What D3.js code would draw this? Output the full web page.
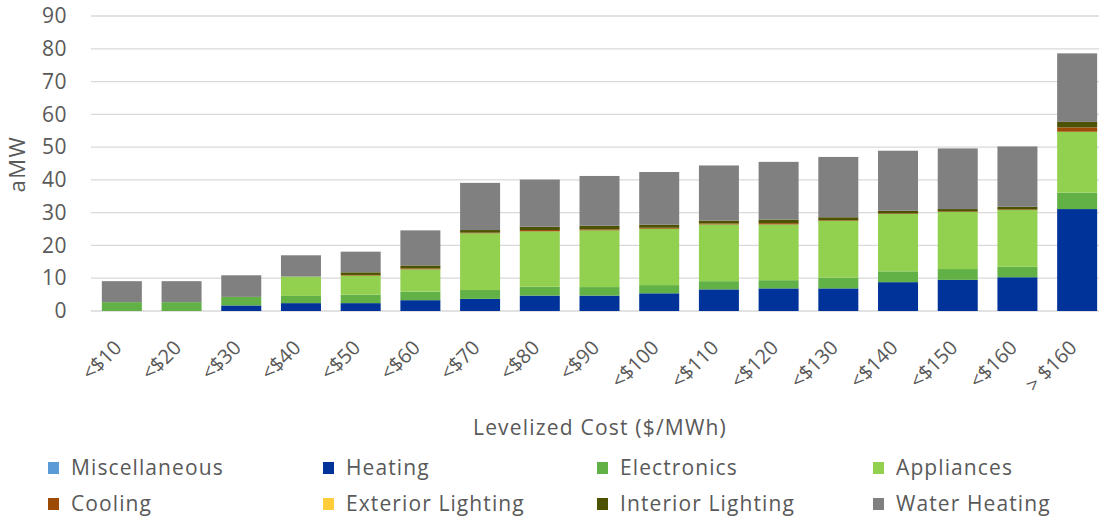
<!DOCTYPE html>
<html><head><meta charset="utf-8">
<script src="https://cdn.jsdelivr.net/npm/d3@7"></script>
<style>
html,body{margin:0;padding:0;background:#fff;}
svg{display:block;}
text{font-family:"Open Sans",sans-serif;fill:#595959;}
</style></head>
<body><svg id="chart" width="1099" height="521"></svg>
<script>
const categories = ["<$10","<$20","<$30","<$40","<$50","<$60","<$70","<$80","<$90","<$100","<$110","<$120","<$130","<$140","<$150","<$160","> $160"];
const seriesNames = ["Miscellaneous","Heating","Electronics","Appliances","Cooling","Exterior Lighting","Interior Lighting","Water Heating"];
const seriesColors = ["#5B9BD5","#003399","#62B146","#92D050","#9C4A06","#FFCD3A","#4D5200","#808080"];
const miscellaneous = [0,0,0,0,0,0,0,0,0,0,0,0,0,0,0,0,0];
const heating =      [0,0,1.7,2.4,2.4,3.3,3.7,4.7,4.7,5.4,6.6,6.9,6.9,8.8,9.5,10.3,31.1];
const electronics =  [2.7,2.7,2.6,2.2,2.6,2.6,2.7,2.7,2.6,2.5,2.5,2.5,3.3,3.3,3.3,3.2,5.0];
const appliances =   [0,0,0,5.9,5.8,6.8,17.3,16.9,17.3,17.2,17.3,17.0,17.3,17.5,17.4,17.3,18.6];
const cooling =      [0,0,0,0,0.2,0.3,0.2,0.4,0.3,0.3,0.3,0.4,0.2,0.2,0.2,0.2,1.3];
const exteriorLighting = [0,0,0,0,0,0,0,0,0,0,0,0,0,0,0,0,0];
const interiorLighting = [0,0,0,0,0.8,0.9,0.8,1.0,1.1,0.9,0.9,1.1,0.9,0.8,0.7,0.8,1.7];
const waterHeating = [6.4,6.4,6.6,6.5,6.3,10.7,14.4,14.4,15.2,16.1,16.8,17.6,18.4,18.3,18.5,18.4,20.9];
const yTicks = [0,10,20,30,40,50,60,70,80,90];

const seriesValues = [miscellaneous,heating,electronics,appliances,cooling,exteriorLighting,interiorLighting,waterHeating];
const rows = categories.map((c,i)=>{const r={cat:c}; seriesNames.forEach((s,j)=>r[s]=seriesValues[j][i]); return r;});
const stacked = d3.stack().keys(seriesNames)(rows);

const svg = d3.select("#chart");
const x = d3.scaleBand().domain(categories).range([92,1107]).paddingInner(0.33).paddingOuter(0.165);
const y = d3.scaleLinear().domain([0,90]).range([311,16]);
const color = d3.scaleOrdinal().domain(seriesNames).range(seriesColors);

// gridlines
svg.append("g").selectAll("line").data(yTicks).join("line")
  .attr("x1",91).attr("x2",1099)
  .attr("y1",d=>y(d)).attr("y2",d=>y(d))
  .attr("stroke","#d9d9d9").attr("stroke-width",1.3);

// y axis
const yAxis = svg.append("g").attr("transform","translate(67,0)")
  .call(d3.axisLeft(y).tickValues(yTicks).tickSize(0).tickPadding(0));
yAxis.select(".domain").remove();
yAxis.selectAll("text").attr("font-size","21px").attr("font-family","Open Sans")
  .attr("fill","#595959").attr("letter-spacing","0.5px");

// bars
svg.append("g").selectAll("g").data(stacked).join("g")
  .attr("fill",d=>color(d.key))
  .selectAll("rect").data(d=>d).join("rect")
  .attr("x",d=>x(d.data.cat))
  .attr("width",x.bandwidth())
  .attr("y",d=>y(d[1]))
  .attr("height",d=>Math.max(0,y(d[0])-y(d[1])));

// x axis labels
svg.append("g").selectAll("text").data(categories).join("text")
  .attr("transform",d=>`translate(${x(d)+x.bandwidth()/2+1},349) rotate(-45)`)
  .attr("text-anchor","end")
  .attr("font-size","20px")
  .text(d=>d);

// axis titles
svg.append("text").attr("x",600).attr("y",435).attr("text-anchor","middle")
  .attr("font-size","21px").attr("letter-spacing","1.2px").text("Levelized Cost ($/MWh)");
svg.append("text").attr("transform","translate(25,164) rotate(-90)").attr("text-anchor","middle")
  .attr("font-size","22px").attr("letter-spacing","1.5px").text("aMW");

// legend
const legCols=[48,323,597,873], legRows=[468,504];
const leg = svg.append("g").selectAll("g").data(seriesNames).join("g")
  .attr("transform",(d,i)=>`translate(${legCols[i%4]},${legRows[Math.floor(i/4)]})`);
leg.append("rect").attr("x",0).attr("y",-6).attr("width",11).attr("height",12).attr("fill",d=>color(d));
leg.append("text").attr("x",23).attr("y",7).attr("font-size","21px").attr("letter-spacing","1.1px").text(d=>d);
</script></body></html>
